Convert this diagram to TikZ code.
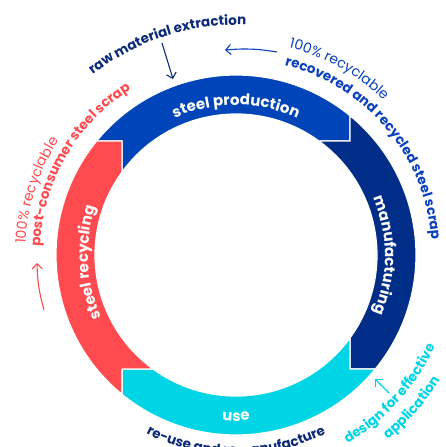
\documentclass[tikz,border=0pt]{standalone}
\usepackage{fontspec}
\setmainfont{Poppins}
\usetikzlibrary{arrows.meta,decorations.text}
\definecolor{stlblue}{RGB}{0,68,185}
\definecolor{stlnavy}{RGB}{0,45,135}
\definecolor{stlcyan}{RGB}{0,213,230}
\definecolor{stlred}{RGB}{255,74,80}
\definecolor{txtnavy}{RGB}{12,42,120}
\definecolor{txtblue}{RGB}{10,64,190}
\newcommand\bandfont{\fontsize{15}{15}\selectfont\bfseries}
\newcommand\boldfont{\fontsize{13.5}{13.5}\selectfont\bfseries}
\newcommand\thinfont{\fontsize{14}{14}\selectfont}
\tikzset{
    %Define standard arrow tip
    >={Straight Barb[length=5pt,width=10pt]},
    %Define one ring segment (the top one, rotate it for the others)
    seg/.pic={
           \filldraw[draw=white, line width=1.2pt]
              (140.7:180) arc[start angle=140.7, end angle=50.7, radius=180]
              -- (114,114) -- (53.9:141)
              arc[start angle=53.9, end angle=143.9, radius=141]
              -- (-114,114) -- cycle;
           },
    % Define style for text along an arc
    ringtext/.style n args={2}{
           decorate,
           decoration={text along path,
              text align=center,
              text color=#1,
              text={#2}}
           },
    % Define arrow style
    arr/.style={
           ->,
           line width=1.1pt}
}
\begin{document}
\begin{tikzpicture}[x=1pt,y=1pt]
\useasboundingbox (-236,-192) rectangle (209,255);
\clip (-236,-192) rectangle (209,255);
% ring
\pic[stlblue] {seg};
\pic[rotate=-90, stlnavy] {seg};
\pic[rotate=-180, stlcyan] {seg};
\pic[rotate=-270, stlred] {seg};
% labels in the ring
\path[ringtext={white}{|\bandfont|steel production}] (130:150) arc[start angle=130, end angle=50, radius=150];
\path[ringtext={white}{|\bandfont|manufacturing}] (45:149) arc[start angle=45, end angle=-45, radius=149];
\path[ringtext={white}{|\bandfont|steel recycling}] (228:148) arc[start angle=228, end angle=138, radius=148];
\path[ringtext={white}{|\bandfont|use}] (240:166) arc[start angle=240, end angle=300, radius=166];
% labels round the ring
\path[ringtext={txtnavy}{|\boldfont|raw material extraction}] (150:230) arc[start angle=150, end angle=66, radius=230];
\path[ringtext={txtblue}{|\thinfont|100{\%} recyclable}] (95:214) arc[start angle=95, end angle=27, radius=214];
\path[ringtext={txtblue}{|\boldfont|recovered and recycled steel scrap}] (100:196) arc[start angle=100, end angle=-20, radius=196];
\path[ringtext={stlred}{|\thinfont|100{\%} recyclable}] (200:211) arc[start angle=200, end angle=124, radius=211];
\path[ringtext={stlred}{|\boldfont|post-consumer steel scrap}] (196:196) arc[start angle=196, end angle=104, radius=196];
\path[ringtext={txtnavy}{|\boldfont|re-use and remanufacture}] (222:200) arc[start angle=222, end angle=318, radius=200];
\path[ringtext={stlcyan}{|\boldfont|design for effective}] (285:219) arc[start angle=285, end angle=351, radius=219];
\path[ringtext={stlcyan}{|\boldfont|application}] (295:239) arc[start angle=295, end angle=343, radius=239];
% arrows
\coordinate (rawtail) at (-74,212);
\coordinate (rawhead) at (-63,176);
\coordinate (scraptail) at (41,203);
\coordinate (scraphead) at (-11,205);
\coordinate (posttail) at (-192,-55);
\coordinate (posthead) at (-199,-8);
\coordinate (designtail) at (153,-138);
\coordinate (designhead) at (139,-124);
\draw[arr, txtnavy] (rawtail) -- (rawhead);
\draw[arr, txtblue] (scraptail) to[bend right=7] (scraphead);
\draw[arr, stlred] (posttail) to[bend left=7] (posthead);
\draw[arr, stlcyan] (designtail) -- (designhead);
\end{tikzpicture}
\end{document}
